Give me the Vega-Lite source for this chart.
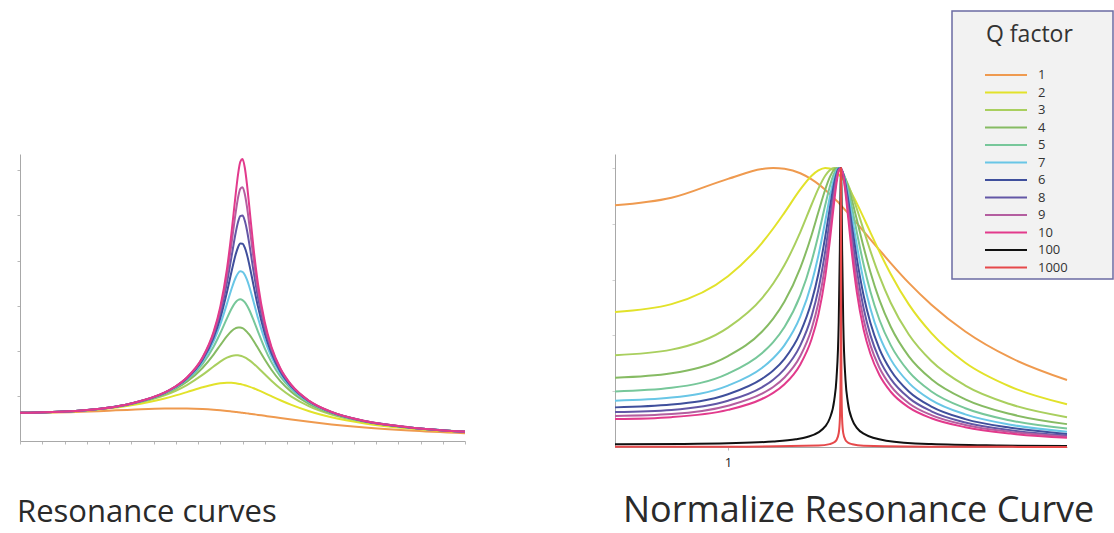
{
  "$schema": "https://vega.github.io/schema/vega-lite/v6.json",
  "background": "white",
  "padding": {"left": 16, "top": 10, "right": 0, "bottom": 6},
  "config": {
    "view": {"stroke": null},
    "font": "Open Sans",
    "axis": {"domainColor": "#a8a8a8", "tickColor": "#b8b8b8", "grid": false, "title": null, "labels": false, "domainWidth": 1, "tickWidth": 1}
  },
  "datasets": {
    "curves": [
      {"q":"1","w":0,"a":1,"n":0.866},{"q":"1","w":0.25,"a":1.031,"n":0.893},{"q":"1","w":0.5,"a":1.109,"n":0.961},{"q":"1","w":0.65,"a":1.150,"n":0.996},{"q":"1","w":0.7,"a":1.155,"n":1.0},{"q":"1","w":0.75,"a":1.152,"n":0.997},{"q":"1","w":0.82,"a":1.133,"n":0.981},{"q":"1","w":0.87,"a":1.107,"n":0.959},{"q":"1","w":0.9,"a":1.087,"n":0.942},{"q":"1","w":0.93,"a":1.064,"n":0.922},{"q":"1","w":0.95,"a":1.047,"n":0.907},{"q":"1","w":0.97,"a":1.029,"n":0.891},{"q":"1","w":0.98,"a":1.020,"n":0.883},{"q":"1","w":0.99,"a":1.010,"n":0.875},{"q":"1","w":1.0,"a":1.0,"n":0.866},{"q":"1","w":1.01,"a":0.990,"n":0.857},{"q":"1","w":1.02,"a":0.980,"n":0.848},{"q":"1","w":1.03,"a":0.969,"n":0.839},{"q":"1","w":1.05,"a":0.948,"n":0.821},{"q":"1","w":1.07,"a":0.926,"n":0.802},{"q":"1","w":1.1,"a":0.893,"n":0.773},{"q":"1","w":1.13,"a":0.860,"n":0.744},{"q":"1","w":1.17,"a":0.815,"n":0.706},{"q":"1","w":1.22,"a":0.761,"n":0.659},{"q":"1","w":1.3,"a":0.680,"n":0.588},{"q":"1","w":1.4,"a":0.589,"n":0.510},{"q":"1","w":1.55,"a":0.478,"n":0.414},{"q":"1","w":1.75,"a":0.370,"n":0.320},{"q":"1","w":2.0,"a":0.277,"n":0.240},

      {"q":"2","w":0,"a":1,"n":0.484},{"q":"2","w":0.25,"a":1.057,"n":0.512},{"q":"2","w":0.5,"a":1.265,"n":0.612},{"q":"2","w":0.65,"a":1.509,"n":0.731},{"q":"2","w":0.7,"a":1.617,"n":0.783},{"q":"2","w":0.75,"a":1.735,"n":0.840},{"q":"2","w":0.82,"a":1.906,"n":0.923},{"q":"2","w":0.87,"a":2.007,"n":0.972},{"q":"2","w":0.9,"a":2.047,"n":0.991},{"q":"2","w":0.93,"a":2.065,"n":1.0},{"q":"2","w":0.95,"a":2.062,"n":0.998},{"q":"2","w":0.97,"a":2.047,"n":0.991},{"q":"2","w":0.98,"a":2.034,"n":0.985},{"q":"2","w":0.99,"a":2.019,"n":0.977},{"q":"2","w":1.0,"a":2.0,"n":0.968},{"q":"2","w":1.01,"a":1.979,"n":0.958},{"q":"2","w":1.02,"a":1.955,"n":0.946},{"q":"2","w":1.03,"a":1.928,"n":0.934},{"q":"2","w":1.05,"a":1.870,"n":0.905},{"q":"2","w":1.07,"a":1.804,"n":0.873},{"q":"2","w":1.1,"a":1.699,"n":0.822},{"q":"2","w":1.13,"a":1.589,"n":0.769},{"q":"2","w":1.17,"a":1.446,"n":0.700},{"q":"2","w":1.22,"a":1.280,"n":0.620},{"q":"2","w":1.3,"a":1.055,"n":0.511},{"q":"2","w":1.4,"a":0.842,"n":0.408},{"q":"2","w":1.55,"a":0.624,"n":0.302},{"q":"2","w":1.75,"a":0.446,"n":0.216},{"q":"2","w":2.0,"a":0.316,"n":0.153},

      {"q":"3","w":0,"a":1,"n":0.329},{"q":"3","w":0.25,"a":1.063,"n":0.349},{"q":"3","w":0.5,"a":1.302,"n":0.428},{"q":"3","w":0.65,"a":1.621,"n":0.533},{"q":"3","w":0.7,"a":1.783,"n":0.586},{"q":"3","w":0.75,"a":1.985,"n":0.652},{"q":"3","w":0.82,"a":2.344,"n":0.770},{"q":"3","w":0.87,"a":2.643,"n":0.869},{"q":"3","w":0.9,"a":2.816,"n":0.926},{"q":"3","w":0.93,"a":2.957,"n":0.972},{"q":"3","w":0.95,"a":3.018,"n":0.992},{"q":"3","w":0.97,"a":3.042,"n":1.0},{"q":"3","w":0.98,"a":3.039,"n":0.999},{"q":"3","w":0.99,"a":3.025,"n":0.994},{"q":"3","w":1.0,"a":3.0,"n":0.986},{"q":"3","w":1.01,"a":2.965,"n":0.975},{"q":"3","w":1.02,"a":2.921,"n":0.960},{"q":"3","w":1.03,"a":2.868,"n":0.943},{"q":"3","w":1.05,"a":2.742,"n":0.901},{"q":"3","w":1.07,"a":2.598,"n":0.854},{"q":"3","w":1.1,"a":2.367,"n":0.778},{"q":"3","w":1.13,"a":2.139,"n":0.703},{"q":"3","w":1.17,"a":1.863,"n":0.612},{"q":"3","w":1.22,"a":1.574,"n":0.517},{"q":"3","w":1.3,"a":1.227,"n":0.403},{"q":"3","w":1.4,"a":0.937,"n":0.308},{"q":"3","w":1.55,"a":0.669,"n":0.220},{"q":"3","w":1.75,"a":0.467,"n":0.153},{"q":"3","w":2.0,"a":0.325,"n":0.107},

      {"q":"4","w":0,"a":1,"n":0.248},{"q":"4","w":0.25,"a":1.064,"n":0.264},{"q":"4","w":0.5,"a":1.315,"n":0.326},{"q":"4","w":0.65,"a":1.667,"n":0.413},{"q":"4","w":0.7,"a":1.855,"n":0.460},{"q":"4","w":0.75,"a":2.101,"n":0.521},{"q":"4","w":0.82,"a":2.588,"n":0.642},{"q":"4","w":0.87,"a":3.066,"n":0.760},{"q":"4","w":0.9,"a":3.396,"n":0.842},{"q":"4","w":0.93,"a":3.719,"n":0.922},{"q":"4","w":0.95,"a":3.895,"n":0.966},{"q":"4","w":0.97,"a":4.006,"n":0.994},{"q":"4","w":0.98,"a":4.029,"n":0.999},{"q":"4","w":0.99,"a":4.027,"n":0.999},{"q":"4","w":1.0,"a":4.0,"n":0.992},{"q":"4","w":1.01,"a":3.948,"n":0.979},{"q":"4","w":1.02,"a":3.873,"n":0.961},{"q":"4","w":1.03,"a":3.779,"n":0.937},{"q":"4","w":1.05,"a":3.549,"n":0.880},{"q":"4","w":1.07,"a":3.287,"n":0.815},{"q":"4","w":1.1,"a":2.890,"n":0.717},{"q":"4","w":1.13,"a":2.528,"n":0.627},{"q":"4","w":1.17,"a":2.124,"n":0.527},{"q":"4","w":1.22,"a":1.737,"n":0.431},{"q":"4","w":1.3,"a":1.311,"n":0.325},{"q":"4","w":1.4,"a":0.979,"n":0.243},{"q":"4","w":1.55,"a":0.687,"n":0.171},{"q":"4","w":1.75,"a":0.474,"n":0.118},{"q":"4","w":2.0,"a":0.329,"n":0.082},

      {"q":"5","w":0,"a":1,"n":0.199},{"q":"5","w":0.25,"a":1.065,"n":0.212},{"q":"5","w":0.5,"a":1.322,"n":0.263},{"q":"5","w":0.65,"a":1.689,"n":0.336},{"q":"5","w":0.7,"a":1.891,"n":0.376},{"q":"5","w":0.75,"a":2.162,"n":0.430},{"q":"5","w":0.82,"a":2.730,"n":0.543},{"q":"5","w":0.87,"a":3.345,"n":0.666},{"q":"5","w":0.9,"a":3.821,"n":0.760},{"q":"5","w":0.93,"a":4.350,"n":0.866},{"q":"5","w":0.95,"a":4.683,"n":0.932},{"q":"5","w":0.97,"a":4.931,"n":0.981},{"q":"5","w":0.98,"a":5.001,"n":0.995},{"q":"5","w":0.99,"a":5.025,"n":1.0},{"q":"5","w":1.0,"a":5.0,"n":0.995},{"q":"5","w":1.01,"a":4.926,"n":0.980},{"q":"5","w":1.02,"a":4.809,"n":0.957},{"q":"5","w":1.03,"a":4.655,"n":0.926},{"q":"5","w":1.05,"a":4.279,"n":0.852},{"q":"5","w":1.07,"a":3.869,"n":0.770},{"q":"5","w":1.1,"a":3.288,"n":0.654},{"q":"5","w":1.13,"a":2.798,"n":0.557},{"q":"5","w":1.17,"a":2.289,"n":0.456},{"q":"5","w":1.22,"a":1.832,"n":0.365},{"q":"5","w":1.3,"a":1.356,"n":0.270},{"q":"5","w":1.4,"a":1.0,"n":0.199},{"q":"5","w":1.55,"a":0.696,"n":0.139},{"q":"5","w":1.75,"a":0.478,"n":0.095},{"q":"5","w":2.0,"a":0.330,"n":0.066},

      {"q":"7","w":0,"a":1,"n":0.166},{"q":"7","w":0.25,"a":1.066,"n":0.177},{"q":"7","w":0.5,"a":1.325,"n":0.220},{"q":"7","w":0.65,"a":1.702,"n":0.283},{"q":"7","w":0.7,"a":1.911,"n":0.318},{"q":"7","w":0.75,"a":2.198,"n":0.365},{"q":"7","w":0.82,"a":2.817,"n":0.468},{"q":"7","w":0.87,"a":3.533,"n":0.587},{"q":"7","w":0.9,"a":4.131,"n":0.686},{"q":"7","w":0.93,"a":4.864,"n":0.808},{"q":"7","w":0.95,"a":5.378,"n":0.893},{"q":"7","w":0.97,"a":5.810,"n":0.965},{"q":"7","w":0.98,"a":5.950,"n":0.988},{"q":"7","w":0.99,"a":6.017,"n":0.999},{"q":"7","w":1.0,"a":6.0,"n":0.997},{"q":"7","w":1.01,"a":5.899,"n":0.980},{"q":"7","w":1.02,"a":5.723,"n":0.951},{"q":"7","w":1.03,"a":5.490,"n":0.912},{"q":"7","w":1.05,"a":4.931,"n":0.819},{"q":"7","w":1.07,"a":4.352,"n":0.723},{"q":"7","w":1.1,"a":3.587,"n":0.596},{"q":"7","w":1.13,"a":2.986,"n":0.496},{"q":"7","w":1.17,"a":2.397,"n":0.398},{"q":"7","w":1.22,"a":1.890,"n":0.314},{"q":"7","w":1.3,"a":1.383,"n":0.230},{"q":"7","w":1.4,"a":1.012,"n":0.168},{"q":"7","w":1.55,"a":0.701,"n":0.117},{"q":"7","w":1.75,"a":0.480,"n":0.080},{"q":"7","w":2.0,"a":0.331,"n":0.055},

      {"q":"6","w":0,"a":1,"n":0.142},{"q":"6","w":0.25,"a":1.066,"n":0.152},{"q":"6","w":0.5,"a":1.327,"n":0.189},{"q":"6","w":0.65,"a":1.710,"n":0.244},{"q":"6","w":0.7,"a":1.924,"n":0.274},{"q":"6","w":0.75,"a":2.220,"n":0.316},{"q":"6","w":0.82,"a":2.874,"n":0.410},{"q":"6","w":0.87,"a":3.663,"n":0.522},{"q":"6","w":0.9,"a":4.359,"n":0.621},{"q":"6","w":0.93,"a":5.278,"n":0.752},{"q":"6","w":0.95,"a":5.984,"n":0.853},{"q":"6","w":0.97,"a":6.638,"n":0.946},{"q":"6","w":0.98,"a":6.873,"n":0.979},{"q":"6","w":0.99,"a":7.002,"n":0.998},{"q":"6","w":1.0,"a":7.0,"n":0.997},{"q":"6","w":1.01,"a":6.864,"n":0.978},{"q":"6","w":1.02,"a":6.613,"n":0.942},{"q":"6","w":1.03,"a":6.279,"n":0.895},{"q":"6","w":1.05,"a":5.504,"n":0.784},{"q":"6","w":1.07,"a":4.748,"n":0.677},{"q":"6","w":1.1,"a":3.813,"n":0.543},{"q":"6","w":1.13,"a":3.120,"n":0.445},{"q":"6","w":1.17,"a":2.469,"n":0.352},{"q":"6","w":1.22,"a":1.928,"n":0.275},{"q":"6","w":1.3,"a":1.400,"n":0.199},{"q":"6","w":1.4,"a":1.020,"n":0.145},{"q":"6","w":1.55,"a":0.704,"n":0.100},{"q":"6","w":1.75,"a":0.481,"n":0.069},{"q":"6","w":2.0,"a":0.332,"n":0.047},

      {"q":"8","w":0,"a":1,"n":0.125},{"q":"8","w":0.25,"a":1.066,"n":0.133},{"q":"8","w":0.5,"a":1.329,"n":0.166},{"q":"8","w":0.65,"a":1.715,"n":0.214},{"q":"8","w":0.7,"a":1.933,"n":0.241},{"q":"8","w":0.75,"a":2.235,"n":0.279},{"q":"8","w":0.82,"a":2.913,"n":0.364},{"q":"8","w":0.87,"a":3.755,"n":0.469},{"q":"8","w":0.9,"a":4.529,"n":0.565},{"q":"8","w":0.93,"a":5.611,"n":0.700},{"q":"8","w":0.95,"a":6.508,"n":0.812},{"q":"8","w":0.97,"a":7.414,"n":0.925},{"q":"8","w":0.98,"a":7.768,"n":0.969},{"q":"8","w":0.99,"a":7.978,"n":0.995},{"q":"8","w":1.0,"a":8.0,"n":0.998},{"q":"8","w":1.01,"a":7.822,"n":0.976},{"q":"8","w":1.02,"a":7.477,"n":0.933},{"q":"8","w":1.03,"a":7.021,"n":0.876},{"q":"8","w":1.05,"a":6.005,"n":0.749},{"q":"8","w":1.07,"a":5.071,"n":0.633},{"q":"8","w":1.1,"a":3.984,"n":0.497},{"q":"8","w":1.13,"a":3.217,"n":0.401},{"q":"8","w":1.17,"a":2.520,"n":0.314},{"q":"8","w":1.22,"a":1.954,"n":0.244},{"q":"8","w":1.3,"a":1.411,"n":0.176},{"q":"8","w":1.4,"a":1.025,"n":0.128},{"q":"8","w":1.55,"a":0.706,"n":0.088},{"q":"8","w":1.75,"a":0.482,"n":0.060},{"q":"8","w":2.0,"a":0.332,"n":0.041},

      {"q":"9","w":0,"a":1,"n":0.111},{"q":"9","w":0.25,"a":1.066,"n":0.118},{"q":"9","w":0.5,"a":1.330,"n":0.148},{"q":"9","w":0.65,"a":1.718,"n":0.191},{"q":"9","w":0.7,"a":1.938,"n":0.215},{"q":"9","w":0.75,"a":2.245,"n":0.249},{"q":"9","w":0.82,"a":2.941,"n":0.326},{"q":"9","w":0.87,"a":3.823,"n":0.424},{"q":"9","w":0.9,"a":4.657,"n":0.517},{"q":"9","w":0.93,"a":5.879,"n":0.652},{"q":"9","w":0.95,"a":6.959,"n":0.772},{"q":"9","w":0.97,"a":8.135,"n":0.903},{"q":"9","w":0.98,"a":8.631,"n":0.958},{"q":"9","w":0.99,"a":8.946,"n":0.992},{"q":"9","w":1.0,"a":9.0,"n":0.999},{"q":"9","w":1.01,"a":8.771,"n":0.973},{"q":"9","w":1.02,"a":8.311,"n":0.922},{"q":"9","w":1.03,"a":7.714,"n":0.856},{"q":"9","w":1.05,"a":6.439,"n":0.714},{"q":"9","w":1.07,"a":5.335,"n":0.592},{"q":"9","w":1.1,"a":4.116,"n":0.457},{"q":"9","w":1.13,"a":3.289,"n":0.365},{"q":"9","w":1.17,"a":2.557,"n":0.284},{"q":"9","w":1.22,"a":1.973,"n":0.219},{"q":"9","w":1.3,"a":1.419,"n":0.157},{"q":"9","w":1.4,"a":1.028,"n":0.114},{"q":"9","w":1.55,"a":0.708,"n":0.079},{"q":"9","w":1.75,"a":0.483,"n":0.054},{"q":"9","w":2.0,"a":0.332,"n":0.037},

      {"q":"10","w":0,"a":1,"n":0.100},{"q":"10","w":0.25,"a":1.066,"n":0.107},{"q":"10","w":0.5,"a":1.330,"n":0.133},{"q":"10","w":0.65,"a":1.721,"n":0.172},{"q":"10","w":0.7,"a":1.943,"n":0.194},{"q":"10","w":0.75,"a":2.253,"n":0.225},{"q":"10","w":0.82,"a":2.961,"n":0.296},{"q":"10","w":0.87,"a":3.873,"n":0.387},{"q":"10","w":0.9,"a":4.757,"n":0.475},{"q":"10","w":0.93,"a":6.097,"n":0.609},{"q":"10","w":0.95,"a":7.346,"n":0.734},{"q":"10","w":0.97,"a":8.804,"n":0.879},{"q":"10","w":0.98,"a":9.461,"n":0.945},{"q":"10","w":0.99,"a":9.903,"n":0.989},{"q":"10","w":1.0,"a":10.0,"n":0.999},{"q":"10","w":1.01,"a":9.711,"n":0.970},{"q":"10","w":1.02,"a":9.115,"n":0.910},{"q":"10","w":1.03,"a":8.357,"n":0.835},{"q":"10","w":1.05,"a":6.815,"n":0.681},{"q":"10","w":1.07,"a":5.552,"n":0.555},{"q":"10","w":1.1,"a":4.218,"n":0.421},{"q":"10","w":1.13,"a":3.344,"n":0.334},{"q":"10","w":1.17,"a":2.584,"n":0.258},{"q":"10","w":1.22,"a":1.987,"n":0.198},{"q":"10","w":1.3,"a":1.424,"n":0.142},{"q":"10","w":1.4,"a":1.031,"n":0.103},{"q":"10","w":1.55,"a":0.709,"n":0.071},{"q":"10","w":1.75,"a":0.483,"n":0.048},{"q":"10","w":2.0,"a":0.333,"n":0.033},

      {"q":"100","w":0,"n":0.010},{"q":"100","w":0.3,"n":0.011},{"q":"100","w":0.5,"n":0.0133},{"q":"100","w":0.7,"n":0.0196},{"q":"100","w":0.8,"n":0.0278},{"q":"100","w":0.85,"n":0.036},{"q":"100","w":0.9,"n":0.0526},{"q":"100","w":0.93,"n":0.0738},{"q":"100","w":0.95,"n":0.102},{"q":"100","w":0.97,"n":0.167},{"q":"100","w":0.98,"n":0.245},{"q":"100","w":0.99,"n":0.450},{"q":"100","w":0.995,"n":0.710},{"q":"100","w":0.998,"n":0.930},{"q":"100","w":1.0,"n":1.0},{"q":"100","w":1.002,"n":0.927},{"q":"100","w":1.005,"n":0.705},{"q":"100","w":1.01,"n":0.445},{"q":"100","w":1.02,"n":0.240},{"q":"100","w":1.03,"n":0.162},{"q":"100","w":1.05,"n":0.097},{"q":"100","w":1.07,"n":0.0688},{"q":"100","w":1.1,"n":0.0476},{"q":"100","w":1.2,"n":0.0227},{"q":"100","w":1.4,"n":0.0104},{"q":"100","w":1.7,"n":0.0053},{"q":"100","w":2.0,"n":0.0033},

      {"q":"1000","w":0,"n":0.001},{"q":"1000","w":0.5,"n":0.0013},{"q":"1000","w":0.9,"n":0.0053},{"q":"1000","w":0.95,"n":0.0103},{"q":"1000","w":0.97,"n":0.0169},{"q":"1000","w":0.98,"n":0.0253},{"q":"1000","w":0.99,"n":0.0502},{"q":"1000","w":0.995,"n":0.0998},{"q":"1000","w":0.998,"n":0.243},{"q":"1000","w":0.999,"n":0.448},{"q":"1000","w":0.9995,"n":0.707},{"q":"1000","w":1.0,"n":1.0},{"q":"1000","w":1.0005,"n":0.707},{"q":"1000","w":1.001,"n":0.447},{"q":"1000","w":1.002,"n":0.242},{"q":"1000","w":1.005,"n":0.099},{"q":"1000","w":1.01,"n":0.0497},{"q":"1000","w":1.02,"n":0.0248},{"q":"1000","w":1.03,"n":0.0164},{"q":"1000","w":1.05,"n":0.0098},{"q":"1000","w":1.1,"n":0.0048},{"q":"1000","w":1.5,"n":0.0008},{"q":"1000","w":2.0,"n":0.0003}
    ]
  },
  "resolve": {"scale": {"color": "shared"}, "legend": {"color": "independent"}},
  "spacing": 142,
  "hconcat": [
    {
      "width": 445,
      "height": 287,
      "data": {"name": "curves"},
      "title": {"text": "Resonance curves", "orient": "bottom", "anchor": "start", "fontSize": 31, "fontWeight": "normal", "color": "#2a2a2a", "offset": 53, "dx": 1, "font": "Open Sans"},
      "mark": {"type": "line", "strokeWidth": 2, "interpolate": "monotone"},
      "encoding": {
        "x": {"field": "w", "type": "quantitative", "scale": {"domain": [0, 2], "nice": false, "zero": false},
              "axis": {"values": [0,0.1,0.2,0.3,0.4,0.5,0.6,0.7,0.8,0.9,1,1.1,1.2,1.3,1.4,1.5,1.6,1.7,1.8,1.9,2], "tickSize": 3, "labels": false}},
        "y": {"field": "a", "type": "quantitative", "scale": {"domain": [0, 10.18], "nice": false},
              "axis": {"values": [1.6, 3.2, 4.8, 6.4, 8.0, 9.6], "tickSize": 3, "labels": false}},
        "color": {"field": "q", "type": "nominal",
                  "scale": {"domain": ["1","2","3","4","5","7","6","8","9","10","100","1000"],
                            "range": ["#ef9a4f","#e2e22a","#a9cf5e","#86bb63","#77c79a","#69c6e6","#3f4f9c","#6357a6","#b45ea0","#e23a8c","#111111","#e6494b"]},
                  "legend": null}
      }
    },
    {
      "width": 452,
      "height": 293,
      "data": {"name": "curves"},
      "title": {"text": "Normalize Resonance Curve", "orient": "bottom", "anchor": "start", "fontSize": 36, "fontWeight": "normal", "color": "#2a2a2a", "offset": 25, "dx": 12, "font": "Open Sans"},
      "mark": {"type": "line", "strokeWidth": 2, "interpolate": "monotone"},
      "encoding": {
        "x": {"field": "w", "type": "quantitative", "scale": {"domain": [0, 2], "nice": false, "zero": false},
              "axis": {"values": [0.5], "tickSize": 3, "labels": true, "labelExpr": "'1'", "labelFontSize": 13, "labelColor": "#222", "labelPadding": 6}},
        "y": {"field": "n", "type": "quantitative", "scale": {"domain": [0, 1.05], "nice": false},
              "axis": {"values": [0.2, 0.4, 0.6, 0.8, 1.0], "tickSize": 3, "labels": false, "tickColor": "#d0d0d0"}},
        "color": {"field": "q", "type": "nominal",
                  "scale": {"domain": ["1","2","3","4","5","7","6","8","9","10","100","1000"],
                            "range": ["#ef9a4f","#e2e22a","#a9cf5e","#86bb63","#77c79a","#69c6e6","#3f4f9c","#6357a6","#b45ea0","#e23a8c","#111111","#e6494b"]},
                  "legend": {"title": "Q factor", "orient": "none", "legendX": 337, "legendY": -143,
                             "symbolType": "M-3,0H3M14.1,0L14.1,0", "symbolSize": 196, "symbolStrokeWidth": 2, "symbolFillColor": "transparent",
                             "symbolOffset": 42, "labelOffset": 24,
                             "labelFontSize": 13, "labelColor": "#333", "labelFont": "Open Sans",
                             "titleFontSize": 23, "titleFontWeight": "normal", "titleColor": "#333", "titleFont": "Open Sans",
                             "titlePadding": 29, "titleAnchor": "start",
                             "padding": 4, "rowPadding": 2.5,
                             "strokeColor": "#6b6ba3", "fillColor": "#f2f2f2",
                             "encode": {"legend": {"update": {"strokeWidth": {"value": 1.5}}},
                                        "title": {"update": {"dx": {"value": 30}, "dy": {"value": 9}}}}}}
      }
    }
  ]
}
